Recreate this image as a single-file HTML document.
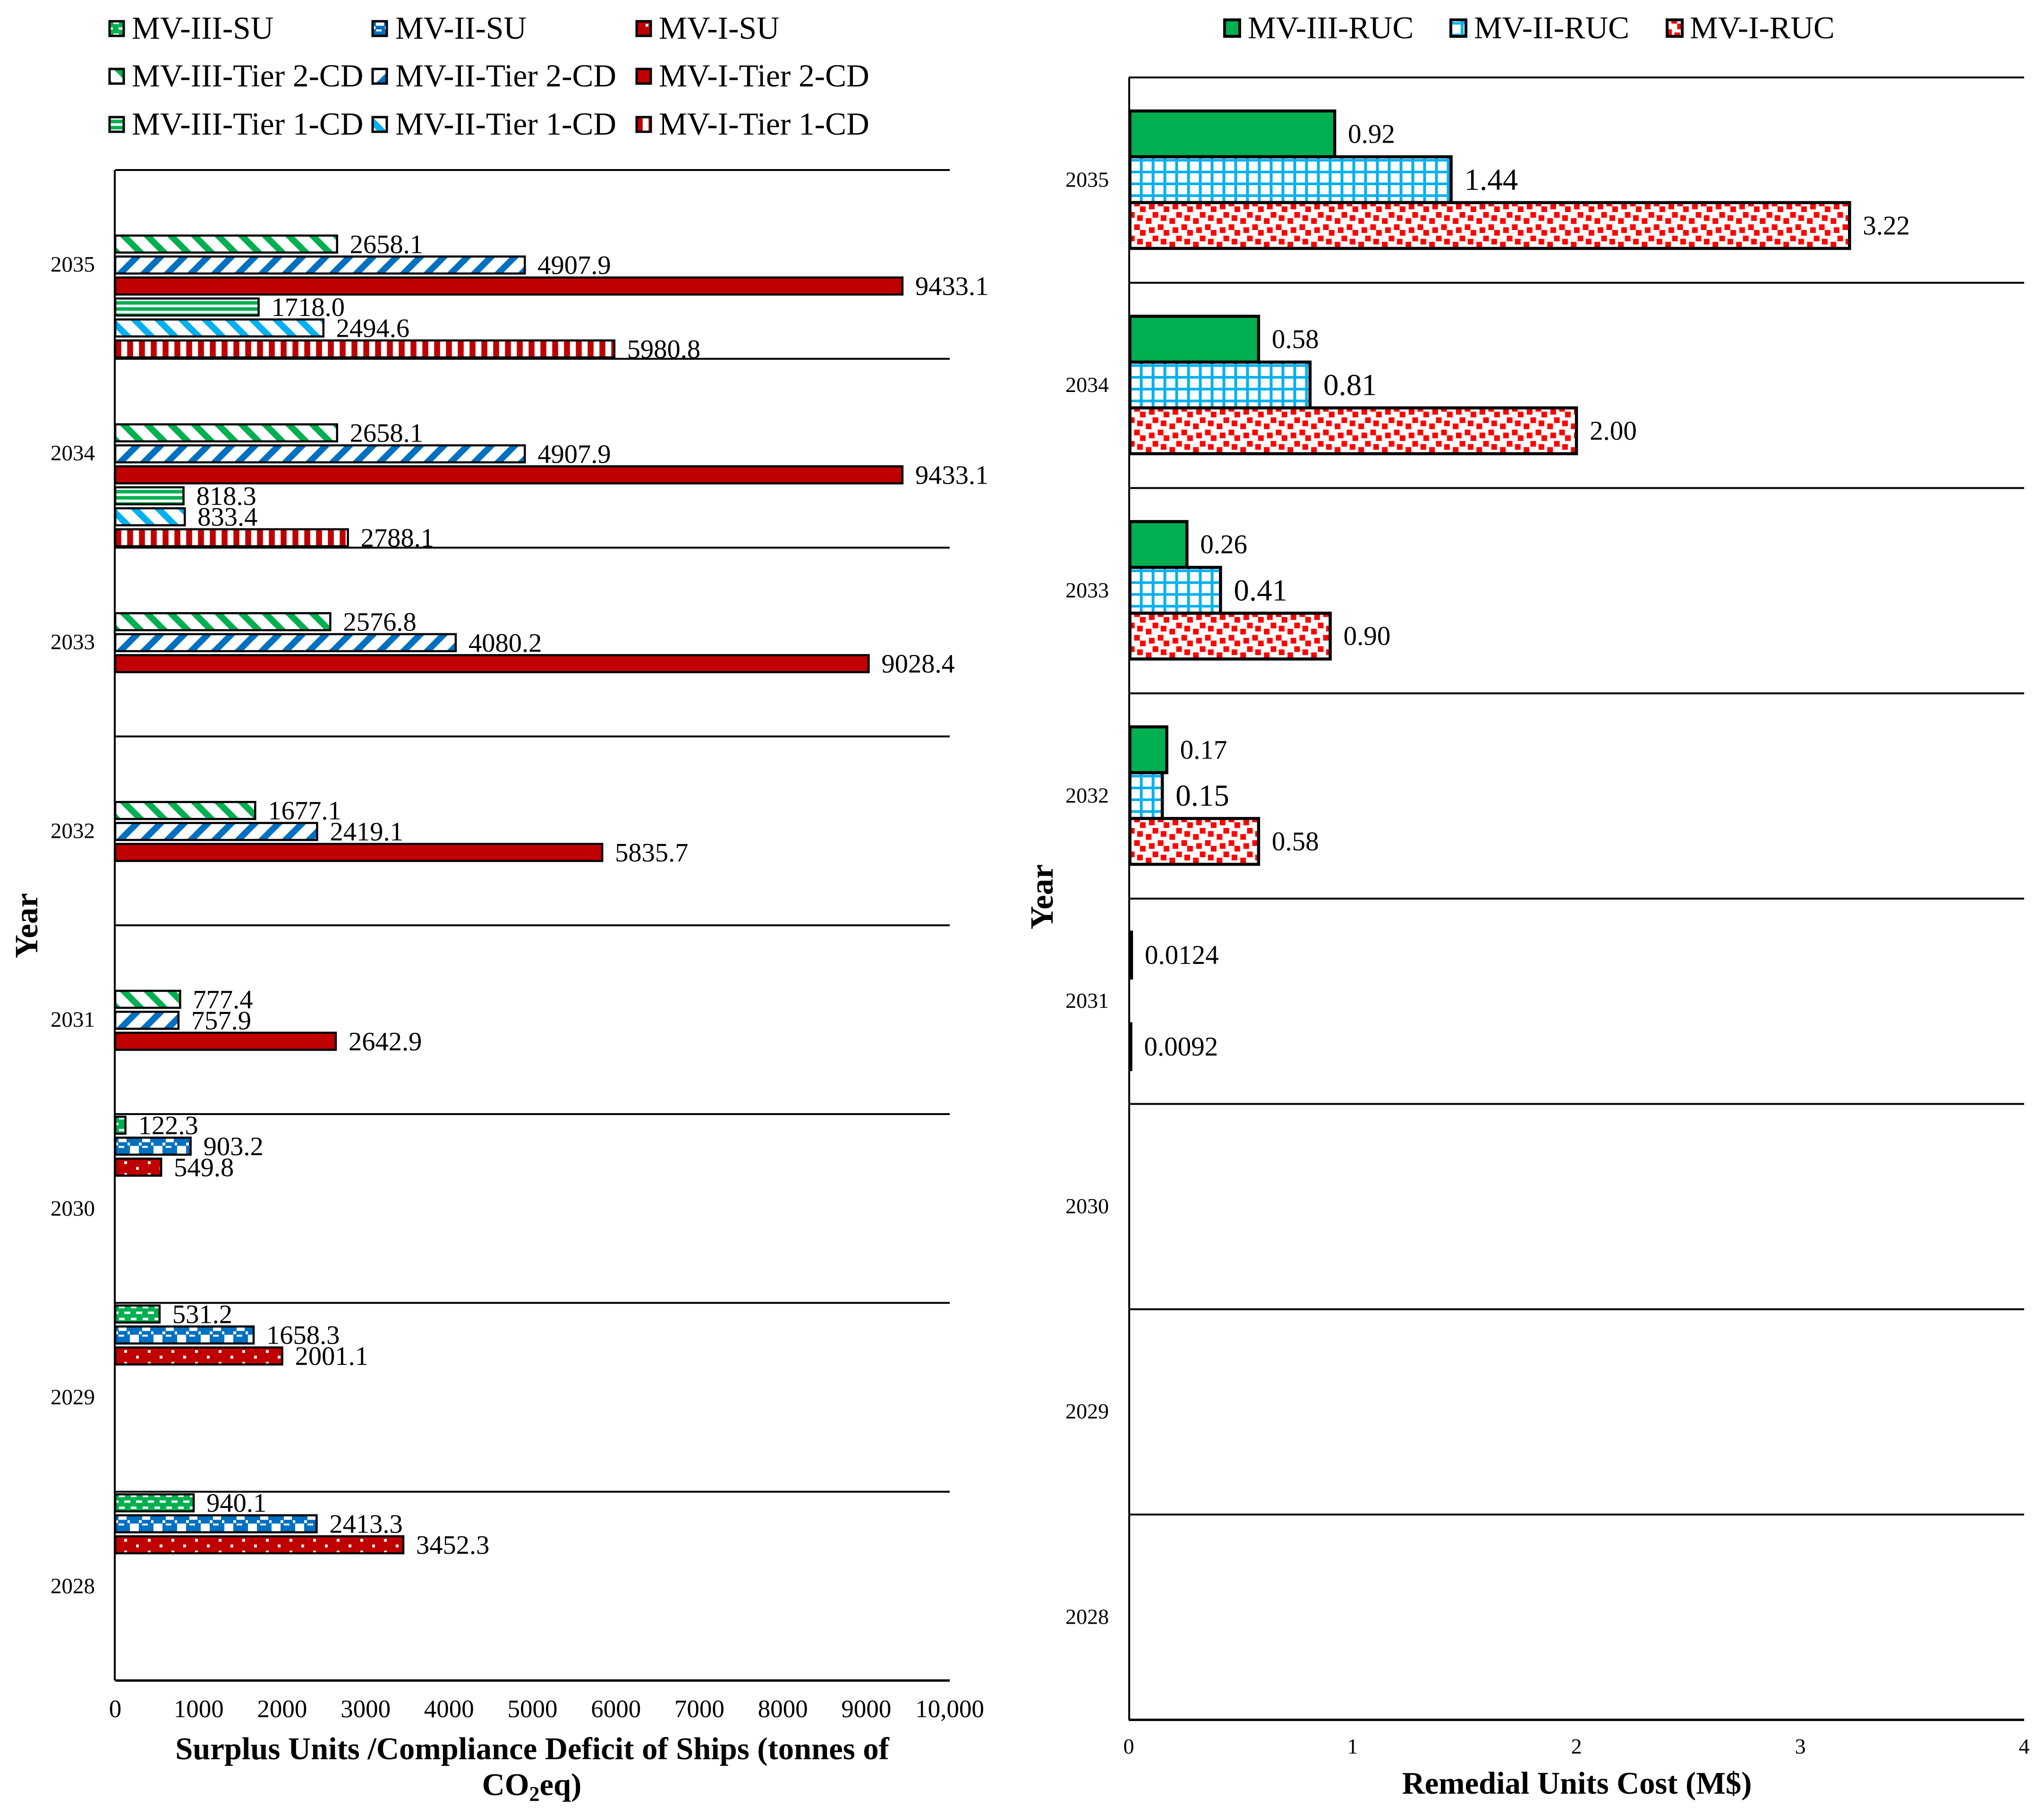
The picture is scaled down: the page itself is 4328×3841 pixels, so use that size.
<!DOCTYPE html>
<html lang="en">
<head>
<meta charset="utf-8">
<title>Surplus Units, Compliance Deficit and Remedial Units Cost by Year</title>
<style>
html,body{margin:0;padding:0;background:#fff;}
svg{display:block;}
text{font-family:"Liberation Serif","Times New Roman",serif;fill:#000;}
</style>
</head>
<body>
<svg id="figure" xmlns="http://www.w3.org/2000/svg" width="4328" height="3841" viewBox="0 0 4328 3841">
<defs>
  <pattern id="p-su-green" patternUnits="userSpaceOnUse" width="25" height="25">
    <rect width="25" height="25" fill="#00b050"/>
    <rect x="8" y="0.9" width="12" height="5" fill="#fff"/>
    <rect x="19" y="12.9" width="6" height="5" fill="#fff"/>
    <rect x="0" y="12.9" width="7" height="5" fill="#fff"/>
  </pattern>
  <pattern id="p-su-blue" patternUnits="userSpaceOnUse" width="50" height="50">
    <rect width="50" height="50" fill="#0070c0"/>
    <rect x="7" y="0" width="17" height="9.5" fill="#fff"/>
    <rect x="26" y="10.5" width="5" height="6" fill="#fff"/>
    <rect x="0" y="10.5" width="6" height="6" fill="#fff"/>
    <rect x="7" y="17.5" width="12" height="4" fill="#fff"/>
    <rect x="31" y="17.5" width="19" height="17" fill="#fff"/>
  </pattern>
  <pattern id="p-su-red" patternUnits="userSpaceOnUse" width="50" height="25">
    <rect width="50" height="25" fill="#c00000"/>
    <rect x="19" y="5.5" width="6" height="6" fill="#fff"/>
    <rect x="44" y="17.5" width="6" height="6" fill="#fff"/>
  </pattern>
  <pattern id="p-t2-green" patternUnits="userSpaceOnUse" width="50" height="50" patternTransform="translate(8,0)">
    <rect width="50" height="50" fill="#fff"/>
    <polygon points="0,0 19,0 69,50 50,50" fill="#00b050"/>
    <polygon points="-50,0 -31,0 19,50 0,50" fill="#00b050"/>
  </pattern>
  <pattern id="p-t2-blue" patternUnits="userSpaceOnUse" width="50" height="50" patternTransform="translate(37,0)">
    <rect width="50" height="50" fill="#fff"/>
    <polygon points="50,0 69,0 19,50 0,50" fill="#0070c0"/>
    <polygon points="0,0 19,0 -31,50 -50,50" fill="#0070c0"/>
  </pattern>
  <pattern id="p-t1-green" patternUnits="userSpaceOnUse" width="13" height="13">
    <rect width="13" height="13" fill="#fff"/>
    <rect y="5.5" width="13" height="7.5" fill="#00b050"/>
  </pattern>
  <pattern id="p-t1-lightblue" patternUnits="userSpaceOnUse" width="50" height="50" patternTransform="translate(31,0)">
    <rect width="50" height="50" fill="#fff"/>
    <polygon points="0,0 19,0 69,50 50,50" fill="#00b0f0"/>
    <polygon points="-50,0 -31,0 19,50 0,50" fill="#00b0f0"/>
  </pattern>
  <pattern id="p-t1-red" patternUnits="userSpaceOnUse" width="25" height="25">
    <rect width="25" height="25" fill="#fff"/>
    <rect x="0.3" width="12.5" height="25" fill="#c00000"/>
  </pattern>
  <pattern id="p-ruc-blue" patternUnits="userSpaceOnUse" width="25" height="25">
    <rect width="25" height="25" fill="#fff"/>
    <rect x="21" width="6" height="25" fill="#00b0f0"/>
    <rect x="-4" width="6" height="25" fill="#00b0f0"/>
    <rect y="4.5" width="25" height="5.5" fill="#00b0f0"/>
  </pattern>
  <pattern id="p-ruc-red" patternUnits="userSpaceOnUse" width="50" height="50">
    <rect width="50" height="50" fill="#fff"/>
    <rect x="21.3" y="8" width="12" height="12" fill="#f00"/>
    <rect x="40.3" y="2.3" width="12" height="12" fill="#f00"/>
    <rect x="-9.7" y="2.3" width="12" height="12" fill="#f00"/>
    <rect x="9" y="-4" width="12" height="12" fill="#f00"/>
    <rect x="9" y="46" width="12" height="12" fill="#f00"/>
    <rect x="-2" y="20" width="12" height="12" fill="#f00"/>
    <rect x="48" y="20" width="12" height="12" fill="#f00"/>
    <rect x="15.3" y="26.7" width="12" height="12" fill="#f00"/>
    <rect x="33.7" y="33" width="12" height="12" fill="#f00"/>
  </pattern>
</defs>
<rect width="4328" height="3841" fill="#fff"/>
<g id="left-chart"></g>
<g id="right-chart"></g>
<text x="1127" y="3725" font-size="66.6" font-weight="700" text-anchor="middle">Surplus Units /Compliance Deficit of Ships (tonnes of</text>
<text x="1126" y="3801" font-size="66.6" font-weight="700" text-anchor="middle">CO<tspan font-size="44" dy="12">2</tspan><tspan dy="-12">eq)</tspan></text>
<text x="3339" y="3798" font-size="66.5" font-weight="700" text-anchor="middle">Remedial Units Cost (M$)</text>
<text transform="translate(79,1960) rotate(-90)" font-size="69" font-weight="700" text-anchor="middle">Year</text>
<text transform="translate(2229,1899) rotate(-90)" font-size="69" font-weight="700" text-anchor="middle">Year</text>
</svg>
<script>
// ---- shared categories (top to bottom) ----
const years = ['2035','2034','2033','2032','2031','2030','2029','2028'];

// ---- left chart data ----
const mvIIISu = [null,null,null,null,null,122.3,531.2,940.1];
const mvIISu = [null,null,null,null,null,903.2,1658.3,2413.3];
const mvISu = [null,null,null,null,null,549.8,2001.1,3452.3];
const mvIIITier2 = [2658.1,2658.1,2576.8,1677.1,777.4,null,null,null];
const mvIITier2 = [4907.9,4907.9,4080.2,2419.1,757.9,null,null,null];
const mvITier2 = [9433.1,9433.1,9028.4,5835.7,2642.9,null,null,null];
const mvIIITier1 = [1718.0,818.3,null,null,null,null,null,null];
const mvIITier1 = [2494.6,833.4,null,null,null,null,null,null];
const mvITier1 = [5980.8,2788.1,null,null,null,null,null,null];
const leftSeriesNames = ['MV-III-SU','MV-II-SU','MV-I-SU','MV-III-Tier 2-CD','MV-II-Tier 2-CD','MV-I-Tier 2-CD','MV-III-Tier 1-CD','MV-II-Tier 1-CD','MV-I-Tier 1-CD'];
const leftTickValues = [0,1000,2000,3000,4000,5000,6000,7000,8000,9000,10000];
const leftTickLabels = ['0','1000','2000','3000','4000','5000','6000','7000','8000','9000','10,000'];

// ---- right chart data ----
const mvIIIRuc = [0.92,0.58,0.26,0.17,0.0124,null,null,null];
const mvIIRuc = [1.44,0.81,0.41,0.15,null,null,null,null];
const mvIRuc = [3.22,2.00,0.90,0.58,0.0092,null,null,null];
const rightSeriesNames = ['MV-III-RUC','MV-II-RUC','MV-I-RUC'];
const rightTickValues = [0,1,2,3,4];
const rightTickLabels = ['0','1','2','3','4'];

const leftSeries = [mvIIISu,mvIISu,mvISu,mvIIITier2,mvIITier2,mvITier2,mvIIITier1,mvIITier1,mvITier1];
const rightSeries = [mvIIIRuc,mvIIRuc,mvIRuc];

const SVGNS = 'http://www.w3.org/2000/svg';
function make(tag, parent){
  const el = document.createElementNS(SVGNS, tag);
  parent.appendChild(el);
  return el;
}
function slug(s){ return s.toLowerCase().replace(/\s+/g,'-'); }

// ---- left chart ----
const L = {x0:244, x1:2011, max:10000, top:360, band:399.8, pitch:44.42, offset:5.5, barH:36};
const leftFills = ['url(#p-su-green)','url(#p-su-blue)','url(#p-su-red)','url(#p-t2-green)','url(#p-t2-blue)','#c00000','url(#p-t1-green)','url(#p-t1-lightblue)','url(#p-t1-red)'];
function lx(v){ return L.x0 + (L.x1 - L.x0) * v / L.max; }
function lBand(i){ return L.top + L.band * i; }

const leftG = document.getElementById('left-chart');
for (let i = 0; i <= years.length; i++){
  const line = make('line', leftG);
  
  
  line.setAttribute('x1', L.x0);
  line.setAttribute('x2', L.x1);
  line.setAttribute('y1', lBand(i));
  line.setAttribute('y2', lBand(i));
  line.setAttribute('stroke', '#000');
  line.setAttribute('stroke-width', i === years.length ? 5 : 4);
}
const leftAxis = make('line', leftG);


leftAxis.setAttribute('x1', L.x0 - 1);
leftAxis.setAttribute('x2', L.x0 - 1);
leftAxis.setAttribute('y1', L.top);
leftAxis.setAttribute('y2', lBand(years.length));
leftAxis.setAttribute('stroke', '#000');
leftAxis.setAttribute('stroke-width', 4);

years.forEach(function(year, c){
  const tick = make('text', leftG);
  
  
  tick.setAttribute('x', 201);
  tick.setAttribute('y', lBand(c) + L.band / 2 + 15);
  tick.setAttribute('font-size', 47);
  tick.setAttribute('text-anchor', 'end');
  tick.textContent = year;
  leftSeries.forEach(function(series, s){
    const v = series[c];
    if (v === null) return;
    const barY = lBand(c) + s * L.pitch + L.offset;
    const bar = make('rect', leftG);
    
    
    bar.setAttribute('transform', 'translate(' + L.x0 + ',' + barY + ')');
    bar.setAttribute('width', lx(v) - L.x0);
    bar.setAttribute('height', L.barH);
    bar.setAttribute('fill', leftFills[s]);
    bar.setAttribute('stroke', '#000');
    bar.setAttribute('stroke-width', 4.5);
    const label = make('text', leftG);
    
    
    label.setAttribute('x', lx(v) + 27);
    label.setAttribute('y', barY + L.barH / 2 + 19);
    label.setAttribute('font-size', 56.5);
    label.textContent = v.toFixed(1);
  });
});
leftTickValues.forEach(function(v, i){
  const t = make('text', leftG);
  
  
  t.setAttribute('x', lx(v));
  t.setAttribute('y', 3636);
  t.setAttribute('font-size', 53);
  t.setAttribute('text-anchor', 'middle');
  t.textContent = leftTickLabels[i];
});
const legendColX = [232, 789, 1348];
const legendTextX = [279, 837, 1395];
const legendRowY = [82, 183, 285];
leftSeriesNames.forEach(function(name, s){
  const col = s % 3;
  const row = Math.floor(s / 3);
  const sw = make('rect', leftG);
  
  
  sw.setAttribute('transform', 'translate(' + legendColX[col] + ',' + (legendRowY[row] - 37) + ')');
  sw.setAttribute('width', 30);
  sw.setAttribute('height', 31);
  sw.setAttribute('fill', leftFills[s]);
  sw.setAttribute('stroke', '#000');
  sw.setAttribute('stroke-width', 5);
  const tx = make('text', leftG);
  
  
  tx.setAttribute('x', legendTextX[col]);
  tx.setAttribute('y', legendRowY[row]);
  tx.setAttribute('font-size', 67.3);
  tx.textContent = name;
});

// ---- right chart ----
const R = {x0:2390, x1:4286, max:4, top:164, band:434.7, pitch:97, offset:71, inset:2.5};
const rightFills = ['#00b050','url(#p-ruc-blue)','url(#p-ruc-red)'];
const rightLabelSizes = [57,65,57];
function rx(v){ return R.x0 + (R.x1 - R.x0) * v / R.max; }
function rBand(i){ return R.top + R.band * i; }

const rightG = document.getElementById('right-chart');
for (let i = 0; i <= years.length; i++){
  const line = make('line', rightG);
  
  
  line.setAttribute('x1', R.x0);
  line.setAttribute('x2', R.x1);
  line.setAttribute('y1', rBand(i));
  line.setAttribute('y2', rBand(i));
  line.setAttribute('stroke', '#000');
  line.setAttribute('stroke-width', i === years.length ? 5 : 4);
}
const rightAxis = make('line', rightG);


rightAxis.setAttribute('x1', R.x0 + 1);
rightAxis.setAttribute('x2', R.x0 + 1);
rightAxis.setAttribute('y1', R.top);
rightAxis.setAttribute('y2', rBand(years.length));
rightAxis.setAttribute('stroke', '#000');
rightAxis.setAttribute('stroke-width', 4);

years.forEach(function(year, c){
  const tick = make('text', rightG);
  
  
  tick.setAttribute('x', 2348);
  tick.setAttribute('y', rBand(c) + R.band / 2 + 14);
  tick.setAttribute('font-size', 46);
  tick.setAttribute('text-anchor', 'end');
  tick.textContent = year;
  rightSeries.forEach(function(series, s){
    const v = series[c];
    if (v === null) return;
    const barY = rBand(c) + R.offset + s * R.pitch;
    const bar = make('rect', rightG);
    
    
    bar.setAttribute('transform', 'translate(' + (R.x0 + R.inset) + ',' + barY + ')');
    bar.setAttribute('width', Math.max(0, rx(v) - R.x0 - R.inset));
    bar.setAttribute('height', R.pitch);
    bar.setAttribute('fill', rightFills[s]);
    bar.setAttribute('stroke', '#000');
    bar.setAttribute('stroke-width', 6.5);
    const label = make('text', rightG);
    
    
    label.setAttribute('x', rx(v) + 28);
    label.setAttribute('y', barY + R.pitch / 2 + rightLabelSizes[s] * 0.33);
    label.setAttribute('font-size', rightLabelSizes[s]);
    label.textContent = v < 0.1 ? v.toFixed(4) : v.toFixed(2);
  });
});
rightTickValues.forEach(function(v, i){
  const t = make('text', rightG);
  
  
  t.setAttribute('x', rx(v));
  t.setAttribute('y', 3713);
  t.setAttribute('font-size', 46);
  t.setAttribute('text-anchor', 'middle');
  t.textContent = rightTickLabels[i];
});
const rightLegendSwatchX = [2593, 3072, 3530];
const rightLegendTextX = [2642, 3121, 3578];
rightSeriesNames.forEach(function(name, s){
  const sw = make('rect', rightG);
  
  
  sw.setAttribute('transform', 'translate(' + rightLegendSwatchX[s] + ',42)');
  sw.setAttribute('width', 32);
  sw.setAttribute('height', 35);
  sw.setAttribute('fill', rightFills[s]);
  sw.setAttribute('stroke', '#000');
  sw.setAttribute('stroke-width', 6);
  const tx = make('text', rightG);
  
  
  tx.setAttribute('x', rightLegendTextX[s]);
  tx.setAttribute('y', 81);
  tx.setAttribute('font-size', 67);
  tx.textContent = name;
});
</script>
</body>
</html>
